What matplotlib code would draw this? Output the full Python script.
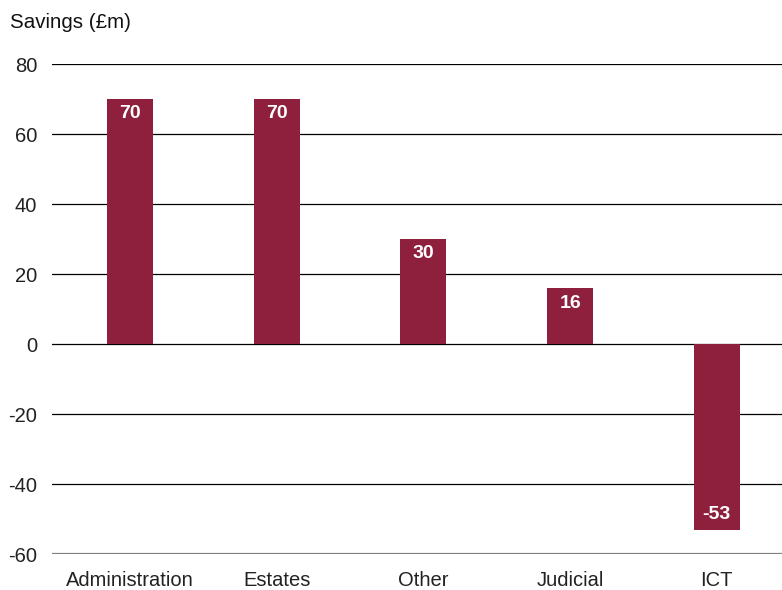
import matplotlib.pyplot as plt

plt.rcParams['font.family'] = ['Liberation Sans', 'DejaVu Sans']

categories = ['Administration', 'Estates', 'Other', 'Judicial', 'ICT']
savings = [70, 70, 30, 16, -53]
yticks = [-60, -40, -20, 0, 20, 40, 60, 80]

bar_colour = '#8E1F3D'

fig = plt.figure(figsize=(7.82, 5.9), dpi=100)
ax = fig.add_axes([52 / 782, 36 / 590, 730 / 782, 490 / 590])

x = range(len(categories))
ax.bar(x, savings, width=0.313, color=bar_colour, zorder=3)

for i, v in zip(x, savings):
    offset = -15 if v >= 0 else 15
    ax.annotate(str(v), (i, v), xytext=(0, offset), textcoords='offset pixels',
                ha='center', va='center', color='white', fontsize=14,
                fontweight='bold', zorder=4)

# horizontal rules at each tick
for t in yticks:
    if t == yticks[0]:
        ax.axhline(t, color='#808080', lw=1.6, zorder=1)
    else:
        ax.axhline(t, color='black', lw=0.9, zorder=1)

ax.set_xlim(-0.532, 4.444)
ax.set_ylim(-60, 80)
ax.set_yticks(yticks)
ax.set_yticklabels([str(t) for t in yticks], fontsize=14.5, color='#222222')
ax.set_xticks(list(x))
ax.set_xticklabels(categories, fontsize=14.5, color='#222222')
ax.tick_params(axis='y', length=0, pad=10.8)
ax.tick_params(axis='x', length=0, pad=12)
for s in ax.spines.values():
    s.set_visible(False)

fig.text(10 / 782, 1 - 23 / 590, 'Savings (£m)', fontsize=14.8, color='#111111',
         ha='left', va='center')

fig.savefig('out.png', dpi=100)
